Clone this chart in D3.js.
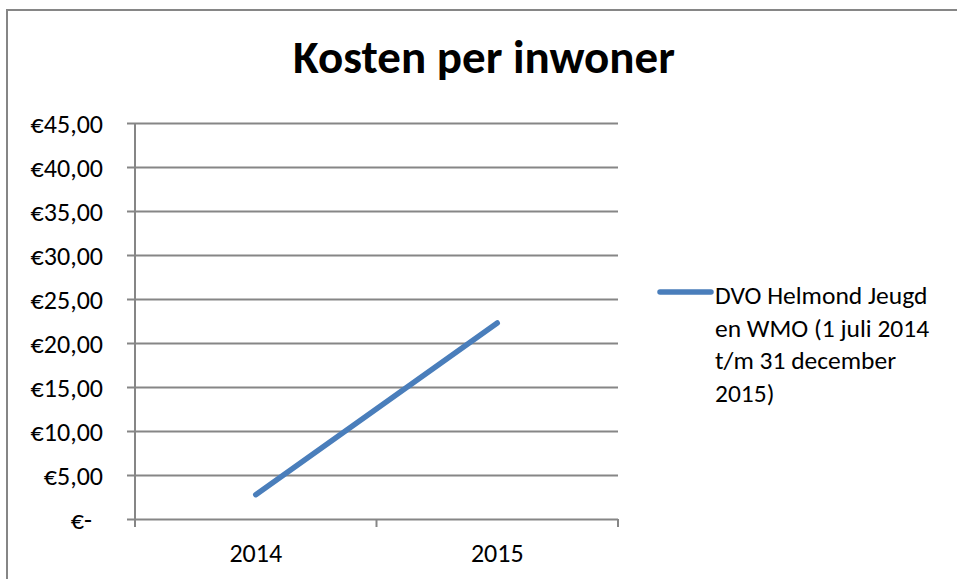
<!DOCTYPE html>
<html><head><meta charset="utf-8">
<script src="https://cdn.jsdelivr.net/npm/d3@7"></script>
<style>
html,body{margin:0;padding:0;background:#fff;}
svg{display:block;}
text{font-family:Carlito, Calibri, Lato, "Open Sans", sans-serif;fill:#000;}
</style></head>
<body>
<svg id="c" width="957" height="579"></svg>
<script>
const title = "Kosten per inwoner";
const categories = ["2014", "2015"];
const values = [2.76, 22.27];
const yTicks = [0, 5, 10, 15, 20, 25, 30, 35, 40, 45];
const seriesName = ["DVO Helmond Jeugd", "en WMO (1 juli 2014", "t/m 31 december", "2015)"];

const svg = d3.select("#c");
const gridColor = "#868686";
const lineColor = "#4A7EBB";

svg.append("rect").attr("x", 7).attr("y", 10).attr("width", 1000).attr("height", 700)
  .attr("fill", "none").attr("stroke", gridColor).attr("stroke-width", 2);

const L = 135, R = 618, T = 123, B = 519;
const x = d3.scaleBand().domain(categories).range([L, R]);
const y = d3.scaleLinear().domain([0, 45]).range([B, T]);

const yAxis = d3.axisLeft(y).tickValues(yTicks).tickSize(-(R - L)).tickSizeOuter(0)
  .tickFormat(d => d === 0 ? "€-" : "€" + d3.format(".2f")(d).replace(".", ","));
const gy = svg.append("g").attr("transform", `translate(${L},0)`).call(yAxis);
gy.select(".domain").remove();
gy.selectAll(".tick line").attr("x1", -8).attr("stroke", gridColor).attr("stroke-width", 2);
gy.selectAll(".tick text").attr("x", -32).attr("font-size", 26).attr("dy", "0.36em")
  .attr("text-anchor", "end");
gy.selectAll(".tick text").filter(d => d === 0).attr("x", -43);

svg.append("line").attr("x1", L).attr("x2", L).attr("y1", T).attr("y2", B + 8)
  .attr("stroke", gridColor).attr("stroke-width", 2);

const xAxis = d3.axisBottom(x).tickSize(0).tickSizeOuter(0);
const gx = svg.append("g").attr("transform", `translate(0,${B})`).call(xAxis);
gx.select(".domain").remove();
gx.selectAll(".tick text").attr("font-size", 26).attr("dy", 0).attr("y", 43);
const xTickPos = [L, ...categories.map(c => x(c) + x.bandwidth())];
svg.selectAll(".xtick").data(xTickPos).enter().append("line")
  .attr("x1", d => d).attr("x2", d => d).attr("y1", B).attr("y2", B + 8)
  .attr("stroke", gridColor).attr("stroke-width", 2);

const line = d3.line().x((d, i) => x(categories[i]) + x.bandwidth() / 2).y(d => y(d));
svg.append("path").datum(values).attr("d", line).attr("fill", "none")
  .attr("stroke", lineColor).attr("stroke-width", 5.5).attr("stroke-linecap", "round");

svg.append("text").attr("x", 484).attr("y", 73).attr("text-anchor", "middle")
  .attr("font-size", 47).attr("font-weight", "bold").text(title);

svg.append("line").attr("x1", 660).attr("x2", 711).attr("y1", 292).attr("y2", 292)
  .attr("stroke", lineColor).attr("stroke-width", 5.5).attr("stroke-linecap", "round");
const lt = svg.append("text").attr("x", 715).attr("font-size", 25.5);
seriesName.forEach((s, i) => {
  lt.append("tspan").attr("x", 715).attr("y", 304 + i * 32.7).text(s);
});
</script>
</body></html>
